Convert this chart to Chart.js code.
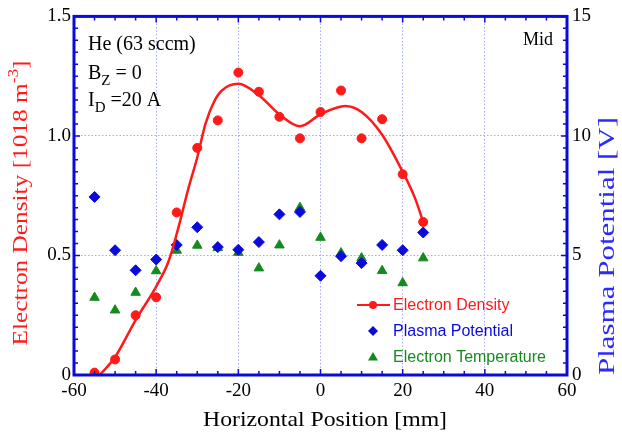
<!DOCTYPE html>
<html>
<head>
<meta charset="utf-8">
<script src="https://cdn.jsdelivr.net/npm/chart.js@4/dist/chart.umd.min.js"></script>
<style>
  html, body { margin: 0; padding: 0; background: #fff; }
  #wrap { width: 622px; height: 437px; }
</style>
</head>
<body>
<div id="wrap"><canvas id="plasmaChart" width="622" height="437"></canvas></div>
<script>
// positions in mm
const positions = [-55, -50, -45, -40, -35, -30, -25, -20, -15, -10, -5, 0, 5, 10, 15, 20, 25];
// electron density [1e18 m-3]
const densityValues = [0.01, 0.065, 0.25, 0.325, 0.68, 0.95, 1.065, 1.265, 1.185, 1.08, 0.99, 1.10, 1.19, 0.99, 1.07, 0.84, 0.64];
// plasma potential [V]
const potentialValues = [7.45, 5.22, 4.38, 4.83, 5.44, 6.18, 5.35, 5.24, 5.56, 6.72, 6.82, 4.15, 4.97, 4.68, 5.44, 5.22, 5.96];
// electron temperature (right axis)
const temperatureValues = [3.24, 2.71, 3.45, 4.35, 5.21, 5.42, 5.32, 5.12, 4.47, 5.43, 7.0, 5.75, 5.1, 4.89, 4.36, 3.85, 4.89];
// fitted density curve
const fitX = [-53.7, -50, -45, -40, -37, -35, -32, -30, -28, -26, -24, -20, -15, -10, -5, 0, 6, 10, 15, 20, 23, 25];
const fitY = [0, 0.075, 0.23, 0.37, 0.475, 0.59, 0.79, 0.91, 1.05, 1.14, 1.19, 1.218, 1.17, 1.09, 1.04, 1.09, 1.125, 1.10, 1.005, 0.85, 0.74, 0.64];

const xTicks = [-60, -40, -20, 0, 20, 40, 60];
const seriesNames = ['Electron Density', 'Plasma Potential', 'Electron Temperature'];

const RED = '#ff1a1a';
const BLUE = '#0a0adc';
const GREEN = '#148a1e';
const SERIF = '"Liberation Serif", "Times New Roman", serif';
const SANS = '"Liberation Sans", Arial, sans-serif';

const toPts = (xs, ys) => xs.map((x, i) => ({ x: x, y: ys[i] }));

// draws runs of [text, fontSize, yShift] centred at 0, stretched to a target length
function stretchedText(ctx, runs, target) {
  let total = 0;
  const widths = runs.map(r => {
    ctx.font = r[1] + 'px ' + SERIF;
    const w = ctx.measureText(r[0]).width;
    total += w;
    return w;
  });
  const k = target / total;
  ctx.scale(k, 1);
  let x = -total / 2;
  ctx.textAlign = 'left';
  ctx.textBaseline = 'middle';
  runs.forEach((r, i) => {
    ctx.font = r[1] + 'px ' + SERIF;
    ctx.fillText(r[0], x, r[2]);
    x += widths[i];
  });
}

// frame, minor ticks, titles, notes and legend
const decorations = {
  id: 'decorations',
  afterDraw(chart) {
    const ctx = chart.ctx;
    const a = chart.chartArea;
    const sx = chart.scales.x, sy = chart.scales.y;
    ctx.save();
    ctx.strokeStyle = BLUE;
    ctx.lineWidth = 1.5;
    ctx.beginPath();
    for (let v = -60; v <= 60; v += 5) {
      const px = sx.getPixelForValue(v);
      const len = v % 20 === 0 ? 6 : 4;
      ctx.moveTo(px, a.bottom); ctx.lineTo(px, a.bottom - len);
      ctx.moveTo(px, a.top); ctx.lineTo(px, a.top + len);
    }
    for (let i = 0; i <= 30; i++) {
      const py = sy.getPixelForValue(i * 0.05);
      const len = i % 10 === 0 ? 6 : 4;
      ctx.moveTo(a.left, py); ctx.lineTo(a.left + len, py);
      ctx.moveTo(a.right, py); ctx.lineTo(a.right - len, py);
    }
    ctx.stroke();
    ctx.lineWidth = 3;
    ctx.strokeRect(a.left, a.top, a.right - a.left, a.bottom - a.top);

    // axis titles
    ctx.save();
    ctx.fillStyle = '#000';
    ctx.translate(325, 420);
    stretchedText(ctx, [['Horizontal Position [mm]', 22, 0]], 244);
    ctx.restore();

    ctx.save();
    ctx.fillStyle = RED;
    ctx.translate(21, 203);
    ctx.rotate(-Math.PI / 2);
    stretchedText(ctx, [['Electron Density [1018 m', 22, 0], ['-3', 15, -7], [']', 22, 0]], 285);
    ctx.restore();

    ctx.save();
    ctx.fillStyle = '#2a2aff';
    ctx.translate(608, 246);
    ctx.rotate(-Math.PI / 2);
    stretchedText(ctx, [['Plasma Potential [V]', 24, 0]], 258);
    ctx.restore();

    // notes
    ctx.fillStyle = '#000';
    ctx.textAlign = 'left';
    ctx.textBaseline = 'alphabetic';
    ctx.font = '20px ' + SERIF;
    ctx.fillText('He (63 sccm)', 88, 50);
    ctx.fillText('B', 88, 79);
    let w = ctx.measureText('B').width;
    ctx.font = '15px ' + SERIF;
    ctx.fillText('Z', 88 + w, 85);
    let wz = ctx.measureText('Z').width;
    ctx.font = '20px ' + SERIF;
    ctx.fillText(' = 0', 88 + w + wz, 79);
    ctx.fillText('I', 88, 106);
    w = ctx.measureText('I').width;
    ctx.font = '15px ' + SERIF;
    ctx.fillText('D', 88 + w, 112);
    wz = ctx.measureText('D').width;
    ctx.font = '20px ' + SERIF;
    ctx.fillText(' =20 A', 88 + w + wz, 106);
    ctx.font = '18px ' + SERIF;
    ctx.textAlign = 'right';
    ctx.fillText('Mid', 553, 45);

    // legend
    const colors = [RED, BLUE, GREEN];
    const rows = [305, 331, 357];
    ctx.textAlign = 'left';
    ctx.textBaseline = 'middle';
    ctx.font = '16px ' + SANS;
    rows.forEach((ly, i) => {
      const cx = 373;
      ctx.fillStyle = colors[i];
      ctx.strokeStyle = colors[i];
      if (i === 0) {
        ctx.lineWidth = 2;
        ctx.beginPath(); ctx.moveTo(357, ly); ctx.lineTo(390, ly); ctx.stroke();
        ctx.beginPath(); ctx.arc(cx, ly, 4, 0, Math.PI * 2); ctx.fill();
      } else if (i === 1) {
        ctx.beginPath();
        ctx.moveTo(cx, ly - 5); ctx.lineTo(cx + 5, ly); ctx.lineTo(cx, ly + 5); ctx.lineTo(cx - 5, ly);
        ctx.closePath(); ctx.fill();
      } else {
        ctx.beginPath();
        ctx.moveTo(cx, ly - 5); ctx.lineTo(cx + 5, ly + 3.5); ctx.lineTo(cx - 5, ly + 3.5);
        ctx.closePath(); ctx.fill();
      }
      ctx.fillText(seriesNames[i], 393, ly + 1);
    });
    ctx.restore();
  }
};

const ctx = document.getElementById('plasmaChart').getContext('2d');
new Chart(ctx, {
  type: 'scatter',
  data: {
    datasets: [
      {
        label: 'fit',
        data: toPts(fitX, fitY),
        yAxisID: 'y',
        showLine: true,
        borderColor: RED,
        borderWidth: 2.5,
        pointRadius: 0,
        cubicInterpolationMode: 'monotone',
      },
      {
        label: seriesNames[0],
        data: toPts(positions, densityValues),
        yAxisID: 'y',
        backgroundColor: RED,
        borderColor: RED,
        pointStyle: 'circle',
        pointRadius: 4.5,
      },
      {
        label: seriesNames[1],
        data: toPts(positions, potentialValues),
        yAxisID: 'y2',
        backgroundColor: BLUE,
        borderColor: BLUE,
        pointStyle: 'rectRot',
        pointRadius: 5.5,
      },
      {
        label: seriesNames[2],
        data: toPts(positions, temperatureValues),
        yAxisID: 'y2',
        backgroundColor: GREEN,
        borderColor: GREEN,
        pointStyle: 'triangle',
        pointRadius: 5.5,
      },
    ],
  },
  options: {
    responsive: false,
    animation: false,
    layout: { padding: { top: 15, left: 0, right: 0, bottom: 0 } },
    plugins: { legend: { display: false }, tooltip: { enabled: false } },
    scales: {
      x: {
        type: 'linear',
        min: -60, max: 60,
        afterBuildTicks: s => { s.ticks = xTicks.map(v => ({ value: v })); },
        ticks: { color: '#000', font: { family: SERIF, size: 19 }, padding: 5 },
        grid: { color: '#a4aaf2', drawTicks: false, lineWidth: 1 },
        border: { display: false, dash: [1.5, 2] },
        afterFit: s => { s.height = 62; },
      },
      y: {
        position: 'left',
        min: 0, max: 1.5,
        ticks: {
          stepSize: 0.5, color: '#000', padding: 3,
          font: { family: SERIF, size: 19 },
          callback: v => v === 0 ? '0' : v.toFixed(1),
        },
        grid: { color: '#a4aaf2', drawTicks: false, lineWidth: 1 },
        border: { display: false, dash: [1.5, 2] },
        afterFit: s => { s.width = 74; },
      },
      y2: {
        position: 'right',
        min: 0, max: 15,
        ticks: { stepSize: 5, color: '#000', padding: 5, font: { family: SERIF, size: 19 } },
        grid: { display: false, drawTicks: false },
        border: { display: false },
        afterFit: s => { s.width = 55; },
      },
    },
  },
  plugins: [decorations],
});
</script>
</body>
</html>
